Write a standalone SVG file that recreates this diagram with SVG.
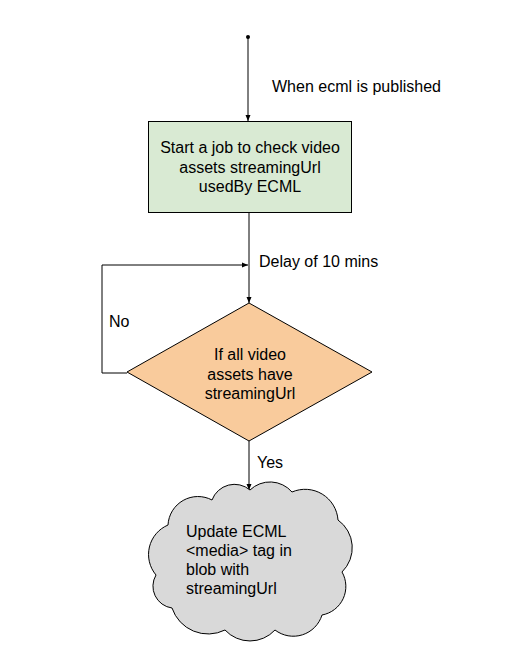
<svg xmlns="http://www.w3.org/2000/svg" width="528" height="661" viewBox="0 0 528 661">
<style>
text{font-family:"Liberation Sans",Arial,sans-serif;font-size:16px;fill:#000}
.c{text-anchor:middle}
.ln{fill:none;stroke:#000;stroke-width:1}
.sh{stroke:#000;stroke-width:1}
</style>
<defs>
<marker id="ah" markerWidth="8" markerHeight="8" refX="7" refY="4" orient="auto" markerUnits="userSpaceOnUse">
<path d="M1,1.5 L7,4 L1,6.5 Z" fill="#000"/>
</marker>
</defs>
<rect width="528" height="661" fill="#fff"/>
<g id="connectors">
<circle cx="248" cy="37" r="2" fill="#000"/>
<path class="ln" d="M248,37 L248,121" marker-end="url(#ah)"/>
<path class="ln" d="M249,212 L249,303" marker-end="url(#ah)"/>
<path class="ln" d="M127,373 L102,373 L102,265 L248,265" marker-end="url(#ah)"/>
<path class="ln" d="M249,441 L249,490" marker-end="url(#ah)"/>
<text x="272" y="92">When ecml is published</text>
<text x="259" y="267">Delay of 10 mins</text>
<text x="109" y="327">No</text>
<text x="257" y="468">Yes</text>
</g>
<g id="start">
<rect class="sh" x="148.5" y="121.5" width="203" height="91" fill="#d9ead3"/>
<text class="c" x="250" y="153">Start a job to check video</text>
<text class="c" x="250" y="173">assets streamingUrl</text>
<text class="c" x="250" y="192">usedBy ECML</text>
</g>
<g id="decision">
<path class="sh" d="M249,303 L372,372 L249,441 L127,372 Z" fill="#f9cb9c"/>
<text class="c" x="250" y="360">If all video</text>
<text class="c" x="250" y="380">assets have</text>
<text class="c" x="250" y="399">streamingUrl</text>
</g>
<g id="update">
<path class="sh" fill="#d9d9d9" d="M156,575 A32,32 0 0 1 168,525 A30,30 0 0 1 212,500 A24,24 0 0 1 250,490 A29,29 0 0 1 292,492 A33,33 0 0 1 338,520 A34,34 0 0 1 342,572 A29,29 0 0 1 322,615 A30,30 0 0 1 275,630 A34,34 0 0 1 225,630 A38,38 0 0 1 172,608 A22,22 0 0 1 156,575 Z"/>
<text x="186" y="537">Update ECML</text>
<text x="186" y="556">&lt;media&gt; tag in</text>
<text x="186" y="575">blob with</text>
<text x="186" y="594">streamingUrl</text>
</g>
</svg>
